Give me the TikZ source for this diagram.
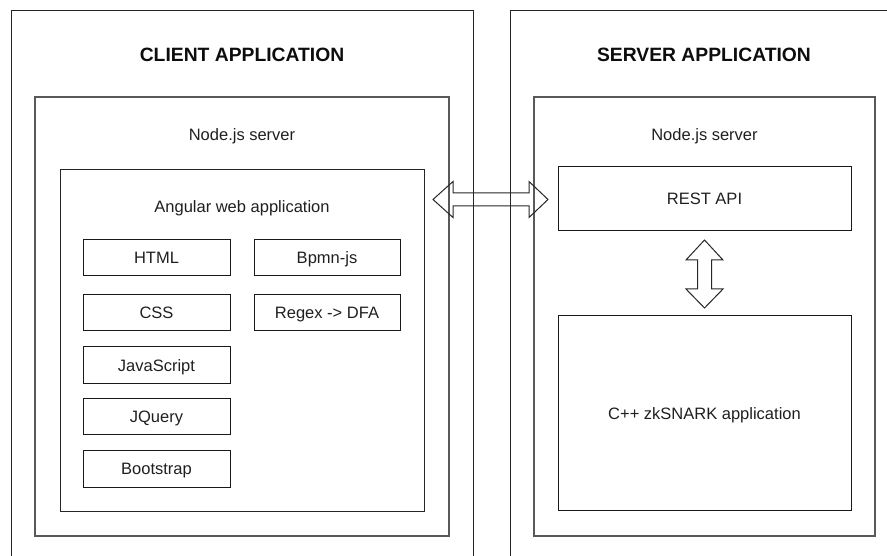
\documentclass[tikz,border=0pt]{standalone}
\usepackage{fontspec}
\setmainfont{Liberation Sans}
\usetikzlibrary{calc}
\begin{document}
\begin{tikzpicture}[x=1pt,y=-1pt,
  txt/.style={font=\fontsize{16.5}{19}\selectfont, text=black!88},
  box/.style={txt, draw=black!90, line width=1pt, minimum width=147pt, minimum height=36pt, inner sep=0pt, outer sep=0pt, text height=12pt, text depth=0pt},
  container/.style={draw=black!65, line width=1.3pt, inner sep=0pt, outer sep=0pt},
  lbl/.style={txt, anchor=base, inner sep=0pt},
  apptitle/.style={anchor=base, font=\fontsize{19.3}{22}\selectfont\bfseries, text=black!95, inner sep=0pt},
  outerline/.style={draw=black!85, line width=1pt},
  blockarrow/.style={draw=black!85, line width=1pt, line join=miter},
]
\useasboundingbox (0,0) rectangle (887,556);

% outer application frames (cut by the picture edge)
\draw[outerline] (11,556) -- (11,11) -- (473,11) -- (473,556);
\draw[outerline] (510,556) -- (510,11) -- (887,11);
\node[apptitle] (tclient) at (242,62) {CLIENT APPLICATION};
\node[apptitle] (tserver) at (704,62) {SERVER APPLICATION};

% client side
\node[container, minimum width=414pt, minimum height=439pt] (nodeL) at (242,316.5) {};
\node[lbl] (nodeLlbl) at (242,141) {Node.js server};
\node[container, draw=black!85, line width=1pt, minimum width=364pt, minimum height=341pt] (ang) at (242,340.5) {};
\node[lbl] (anglbl) at (242,213) {Angular web application};

\node[box] (html) at (156.5,258) {HTML};
\node[box, minimum width=146pt] (bpmn) at (327,258) {Bpmn-js};
\node[box] (css) at (156.5,313) {CSS};
\node[box, minimum width=146pt] (regex) at (327,313) {Regex -> DFA};
\node[box] (js) at (156.5,365) {JavaScript};
\node[box] (jq) at (156.5,416.5) {JQuery};
\node[box, minimum height=37pt] (boot) at (156.5,468.5) {Bootstrap};

% server side
\node[container, minimum width=341pt, minimum height=439pt] (nodeR) at (704.5,316.5) {};
\node[lbl] (nodeRlbl) at (704.5,141) {Node.js server};
\node[box, minimum width=293pt, minimum height=64pt] (rest) at (704.5,199) {REST API};
\node[box, minimum width=293pt, minimum height=194pt] (cpp) at (704.5,413) {C++ zkSNARK application};

% horizontal double block arrow
\coordinate (hl) at (433,199.5);
\coordinate (hr) at (548,199.5);
\draw[blockarrow] (hl) -- ($(hl)+(20,-18)$) -- ($(hl)+(20,-6.5)$) -- ($(hr)+(-19,-6.5)$)
  -- ($(hr)+(-19,-18)$) -- (hr) -- ($(hr)+(-19,18)$) -- ($(hr)+(-19,6.5)$)
  -- ($(hl)+(20,6.5)$) -- ($(hl)+(20,18)$) -- cycle;

% vertical double block arrow
\coordinate (vt) at ($(rest.south)+(0,9)$);
\coordinate (vb) at ($(cpp.north)+(0,-8)$);
\draw[blockarrow] (vt) -- ($(vt)+(18.5,20)$) -- ($(vt)+(7,20)$) -- ($(vb)+(7,-19)$)
  -- ($(vb)+(18.5,-19)$) -- (vb) -- ($(vb)+(-18.5,-19)$) -- ($(vb)+(-7,-19)$)
  -- ($(vt)+(-7,20)$) -- ($(vt)+(-18.5,20)$) -- cycle;
\end{tikzpicture}
\end{document}
